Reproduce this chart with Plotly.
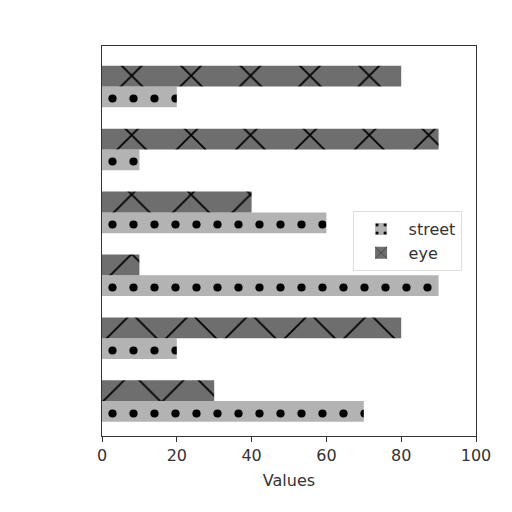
import plotly.graph_objects as go

# groups from bottom to top
groups = [0, 1, 2, 3, 4, 5]
street = [70, 20, 90, 60, 10, 20]
eye = [30, 80, 10, 40, 90, 80]
bar_w = 0.33

fig = go.Figure()
fig.add_trace(go.Bar(
    y=[g for g in groups], x=street, orientation="h", width=bar_w, name="street",
    marker=dict(color="#b3b3b3", line=dict(width=0),
                pattern=dict(shape=".", fgcolor="black", fgopacity=1, bgcolor="#b3b3b3",
                             size=21, solidity=0.12)),
))
fig.add_trace(go.Bar(
    y=[g + bar_w for g in groups], x=eye, orientation="h", width=bar_w, name="eye",
    marker=dict(color="#6e6e6e", line=dict(width=0),
                pattern=dict(shape="x", fgcolor="black", fgopacity=1, bgcolor="#6e6e6e",
                             size=42, solidity=0.08)),
))

fig.update_layout(
    width=512, height=512,
    margin=dict(l=94, r=44, t=38, b=84),
    paper_bgcolor="white", plot_bgcolor="white",
    font=dict(family="DejaVu Sans", size=16, color="#333333"),
    showlegend=True,
    legend=dict(x=0.67, y=0.5, xanchor="left", yanchor="middle", itemwidth=45,
                bgcolor="rgba(255,255,255,0.8)", bordercolor="#dddddd", borderwidth=1,
                font=dict(size=16), traceorder="normal"),
    xaxis=dict(range=[0, 100], tickvals=[0, 20, 40, 60, 80, 100],
               showline=True, linecolor="#333333", linewidth=1, mirror=True,
               ticks="outside", ticklen=5, tickcolor="#333333", showgrid=False, zeroline=False,
               title=dict(text="Values", font=dict(size=16), standoff=10)),
    yaxis=dict(range=[-0.39, 5.81], showticklabels=False, ticks="",
               showline=True, linecolor="#333333", linewidth=1, mirror=True,
               showgrid=False, zeroline=False),
)

fig.write_html("out.html")
